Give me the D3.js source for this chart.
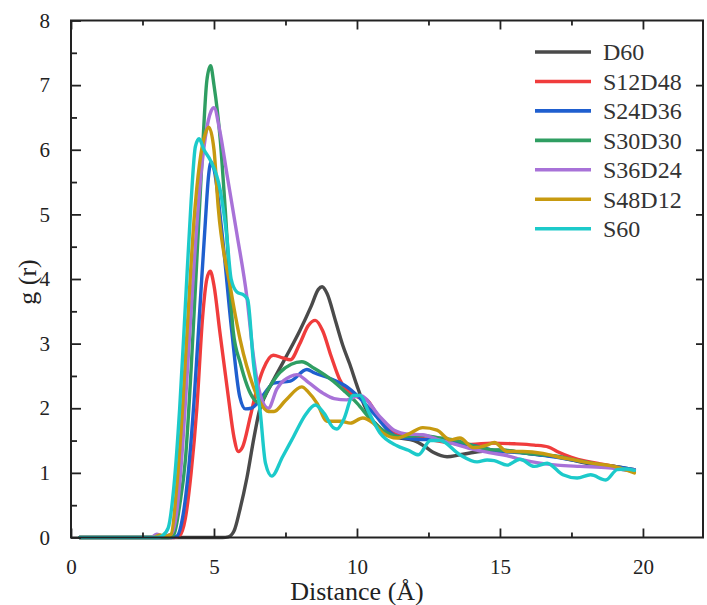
<!DOCTYPE html>
<html>
<head>
<meta charset="utf-8">
<script src="https://cdn.jsdelivr.net/npm/d3@7"></script>
<style>
  html, body { margin: 0; padding: 0; background: #fff; }
  svg { display: block; }
</style>
</head>
<body>
<svg id="chart" width="707" height="605"></svg>
<script>
// Radial distribution functions g(r), one [r, g] list per system
const seriesNames = ["D60", "S12D48", "S24D36", "S30D30", "S36D24", "S48D12", "S60"];
const seriesColors = ["#4a4a4a", "#f03c3c", "#1f5fcf", "#2f9e62", "#a872d8", "#c79a10", "#1ccaca"];

const D60 = [[0.3,0],[2,0],[4,0],[5.3,0],[5.5,0.01],[5.7,0.1],[5.9,0.42],[6.15,0.92],[6.4,1.55],[6.6,1.98],
  [6.8,2.2],[7.0,2.37],[7.5,2.78],[8.0,3.2],[8.4,3.58],[8.65,3.84],[8.78,3.88],[8.95,3.78],[9.25,3.35],[9.5,2.98],
  [9.75,2.68],[10.0,2.35],[10.25,2.05],[10.5,1.84],[10.75,1.72],[11.0,1.62],[11.4,1.55],[12.0,1.5],
  [12.4,1.4],[12.7,1.31],[13.15,1.25],[13.6,1.28],[14.3,1.33],[15.0,1.35],[16.0,1.3],[17.0,1.25],
  [18.0,1.15],[19.0,1.1],[19.7,1.05]];

const S12D48 = [[0.3,0],[2,0],[3.6,0],[3.8,0.03],[4.0,0.3],[4.2,1.0],[4.4,2.0],[4.6,3.4],[4.75,4.0],
  [4.87,4.12],[5.0,3.9],[5.2,3.2],[5.5,2.18],[5.7,1.55],[5.85,1.33],[6.0,1.4],[6.27,1.87],[6.5,2.3],
  [6.72,2.6],[7.07,2.82],[7.4,2.78],[7.67,2.75],[8.0,3.0],[8.3,3.28],[8.54,3.36],[8.8,3.2],[9.1,2.8],
  [9.4,2.44],[9.77,2.23],[10.0,2.18],[10.35,2.13],[10.7,1.9],[11.05,1.72],[11.4,1.59],[12.0,1.55],
  [12.5,1.52],[13.0,1.48],[13.5,1.45],[14.0,1.44],[14.7,1.46],[15.5,1.45],[16.2,1.43],[16.7,1.4],
  [17.0,1.33],[17.5,1.24],[18.0,1.18],[18.5,1.14],[19.0,1.1],[19.7,1.02]];

const S24D36 = [[0.3,0],[2,0],[3.5,0],[3.7,0.02],[3.9,0.3],[4.1,1.0],[4.3,2.1],[4.5,3.5],[4.7,4.9],
  [4.8,5.55],[4.9,5.81],[5.0,5.7],[5.27,4.76],[5.62,3.2],[5.9,2.18],[6.1,1.99],[6.3,2.0],[6.5,2.07],
  [6.8,2.25],[7.08,2.39],[7.67,2.42],[8.25,2.6],[8.5,2.55],[9.17,2.44],[9.65,2.33],[10.0,2.2],
  [10.58,1.92],[11.4,1.56],[12.1,1.52],[12.9,1.51],[13.5,1.47],[14.0,1.43],[14.5,1.38],[15.0,1.33],
  [15.5,1.32],[16.0,1.3],[16.5,1.27],[17.0,1.24],[17.5,1.2],[18.0,1.16],[18.5,1.12],[19.0,1.1],[19.7,1.05]];

const S30D30 = [[0.3,0],[2,0],[3.4,0],[3.6,0.05],[3.8,0.5],[4.0,1.2],[4.2,2.6],[4.4,4.3],[4.6,6.0],
  [4.75,7.07],[4.88,7.3],[5.0,7.0],[5.22,6.15],[5.39,5.1],[5.67,3.2],[5.92,2.7],[6.38,2.15],[6.6,2.08],
  [6.9,2.3],[7.3,2.55],[7.7,2.68],[8.07,2.72],[8.5,2.62],[9.17,2.42],[9.6,2.25],[10.0,2.08],[10.5,1.82],
  [11.05,1.62],[11.5,1.56],[12.3,1.58],[12.9,1.54],[13.5,1.5],[14.0,1.43],[14.67,1.36],[15.2,1.35],
  [15.8,1.31],[16.5,1.28],[17.0,1.26],[17.6,1.2],[18.2,1.15],[18.8,1.1],[19.3,1.05],[19.7,1.03]];

const S36D24 = [[0.3,0],[2,0],[2.8,0],[3.0,0.05],[3.2,0.02],[3.5,0.05],[3.7,0.4],[3.9,1.4],[4.1,2.8],
  [4.3,4.2],[4.5,5.4],[4.7,6.2],[4.9,6.6],[5.0,6.65],[5.2,6.3],[5.45,5.63],[5.8,4.7],[6.15,3.72],
  [6.38,2.8],[6.55,2.33],[6.9,2.0],[7.2,2.3],[7.67,2.49],[7.9,2.52],[8.3,2.4],[8.82,2.23],[9.2,2.15],
  [9.65,2.13],[10.1,2.2],[10.8,1.87],[11.3,1.66],[11.8,1.6],[12.3,1.59],[12.8,1.52],[13.3,1.46],
  [14.1,1.36],[14.67,1.31],[15.3,1.26],[15.8,1.2],[16.4,1.15],[17.0,1.12],[17.8,1.1],[18.8,1.08],
  [19.3,1.05],[19.7,1.04]];

const S48D12 = [[0.3,0],[2,0],[2.9,0],[3.1,0.04],[3.3,0.02],[3.5,0.05],[3.7,0.8],[3.9,2.0],[4.1,3.5],
  [4.3,4.9],[4.5,5.8],[4.7,6.25],[4.82,6.35],[5.0,6.0],[5.15,5.1],[5.57,3.88],[5.92,3.05],[6.38,2.33],
  [6.6,2.1],[6.9,1.95],[7.1,1.95],[7.5,2.12],[8.07,2.33],[8.3,2.25],[8.6,2.08],[8.95,1.8],[9.42,1.8],
  [9.77,1.77],[10.2,1.85],[10.57,1.77],[10.9,1.62],[11.4,1.54],[11.8,1.6],[12.3,1.7],[12.8,1.66],
  [13.27,1.51],[13.6,1.54],[14.07,1.39],[14.55,1.43],[14.8,1.47],[15.25,1.33],[15.8,1.33],[16.5,1.3],
  [17.0,1.25],[17.6,1.2],[18.2,1.15],[19.0,1.1],[19.7,1.0]];

const S60 = [[0.3,0],[2,0],[3.0,0],[3.2,0.03],[3.4,0.15],[3.6,0.8],[3.8,2.0],[4.0,3.6],[4.2,5.2],
  [4.35,6.05],[4.48,6.17],[4.65,6.0],[4.87,5.84],[5.22,5.37],[5.45,4.65],[5.6,4.0],[5.8,3.8],
  [6.05,3.75],[6.18,3.68],[6.38,2.7],[6.62,1.93],[6.8,1.15],[7.02,0.95],[7.4,1.25],[7.78,1.56],
  [8.2,1.9],[8.54,2.05],[8.85,1.92],[9.17,1.7],[9.3,1.68],[9.53,1.82],[9.87,2.2],[10.1,2.2],[10.4,1.95],
  [10.8,1.62],[11.4,1.42],[11.8,1.35],[12.15,1.28],[12.57,1.5],[12.9,1.5],[13.6,1.28],[14.2,1.17],
  [14.55,1.2],[14.8,1.19],[15.25,1.12],[15.7,1.21],[16.2,1.1],[16.65,1.15],[17.2,0.97],[17.7,0.92],
  [18.17,0.97],[18.7,0.89],[19.1,1.05],[19.4,1.06],[19.7,1.04]];

const seriesData = [D60, S12D48, S24D36, S30D30, S36D24, S48D12, S60];

const xTicks = [0, 5, 10, 15, 20];
const xMinorTicks = [2.5, 7.5, 12.5, 17.5];
const yTicks = [0, 1, 2, 3, 4, 5, 6, 7, 8];
const yMinorTicks = [0.5, 1.5, 2.5, 3.5, 4.5, 5.5, 6.5, 7.5];

const serif = "'Liberation Serif', 'Times New Roman', serif";
const svg = d3.select("#chart");
const plotLeft = 71, plotRight = 703, plotTop = 20.5, plotBottom = 537.5;

const x = d3.scaleLinear().domain([0, 22.1]).range([plotLeft, plotRight]);
const y = d3.scaleLinear().domain([0, 8]).range([plotBottom, plotTop]);

// curves
const line = d3.line()
  .x(d => x(d[0]))
  .y(d => y(d[1]))
  .curve(d3.curveMonotoneX);

svg.append("g").selectAll("path")
  .data(seriesData)
  .join("path")
  .attr("d", line)
  .attr("fill", "none")
  .attr("stroke", (d, i) => seriesColors[i])
  .attr("stroke-width", 3.4)
  .attr("stroke-linejoin", "round")
  .attr("stroke-linecap", "round");

// frame with inward ticks
const axisColor = "#222";
const frame = svg.append("g");

const bottomAxis = d3.axisBottom(x).tickValues(xTicks).tickSize(-9).tickPadding(22).tickFormat(d3.format("d"));
const bottomMinor = d3.axisBottom(x).tickValues(xMinorTicks).tickSize(-5).tickFormat("");
const topAxis = d3.axisTop(x).tickValues(xTicks).tickSize(-9).tickFormat("");
const topMinor = d3.axisTop(x).tickValues(xMinorTicks).tickSize(-5).tickFormat("");
const leftAxis = d3.axisLeft(y).tickValues(yTicks).tickSize(-10).tickPadding(21).tickFormat(d3.format("d"));
const leftMinor = d3.axisLeft(y).tickValues(yMinorTicks).tickSize(-6).tickFormat("");
const rightAxis = d3.axisRight(y).tickValues(yTicks.slice(1, 8)).tickSize(-7).tickFormat("");

function styleAxis(g) {
  g.attr("font-family", serif).attr("font-size", 21);
  g.select(".domain").remove();
  g.selectAll(".tick line").attr("stroke", axisColor).attr("stroke-width", 1.8);
  g.selectAll(".tick text").attr("fill", axisColor);
}

frame.append("g").attr("transform", `translate(0,${plotBottom})`).call(bottomAxis).call(styleAxis);
frame.append("g").attr("transform", `translate(0,${plotBottom})`).call(bottomMinor).call(styleAxis);
frame.append("g").attr("transform", `translate(0,${plotTop})`).call(topAxis).call(styleAxis);
frame.append("g").attr("transform", `translate(0,${plotTop})`).call(topMinor).call(styleAxis);
frame.append("g").attr("transform", `translate(${plotLeft},0)`).call(leftAxis).call(styleAxis);
frame.append("g").attr("transform", `translate(${plotLeft},0)`).call(leftMinor).call(styleAxis);
frame.append("g").attr("transform", `translate(${plotRight},0)`).call(rightAxis).call(styleAxis);

frame.append("rect")
  .attr("x", plotLeft).attr("y", plotTop)
  .attr("width", plotRight - plotLeft).attr("height", plotBottom - plotTop)
  .attr("fill", "none").attr("stroke", axisColor).attr("stroke-width", 2);

// axis titles
svg.append("text")
  .attr("x", (x(0) + x(20)) / 2).attr("y", 600)
  .attr("text-anchor", "middle")
  .attr("font-family", serif).attr("font-size", 26).attr("fill", axisColor)
  .text("Distance (Å)");

svg.append("text")
  .attr("transform", `translate(36,282) rotate(-90)`)
  .attr("text-anchor", "middle")
  .attr("font-family", serif).attr("font-size", 26).attr("fill", axisColor)
  .text("g (r)");

// legend
const legend = svg.append("g");
const legendRows = legend.selectAll("g")
  .data(seriesNames)
  .join("g")
  .attr("transform", (d, i) => `translate(535,${52 + i * 29.45})`);

legendRows.append("line")
  .attr("x1", 0).attr("x2", 56)
  .attr("y1", 0).attr("y2", 0)
  .attr("stroke", (d, i) => seriesColors[i])
  .attr("stroke-width", 3.6);

legendRows.append("text")
  .attr("x", 68).attr("y", 0)
  .attr("dy", "0.35em")
  .attr("font-family", serif).attr("font-size", 24).attr("fill", "#333")
  .text(d => d);
</script>
</body>
</html>
